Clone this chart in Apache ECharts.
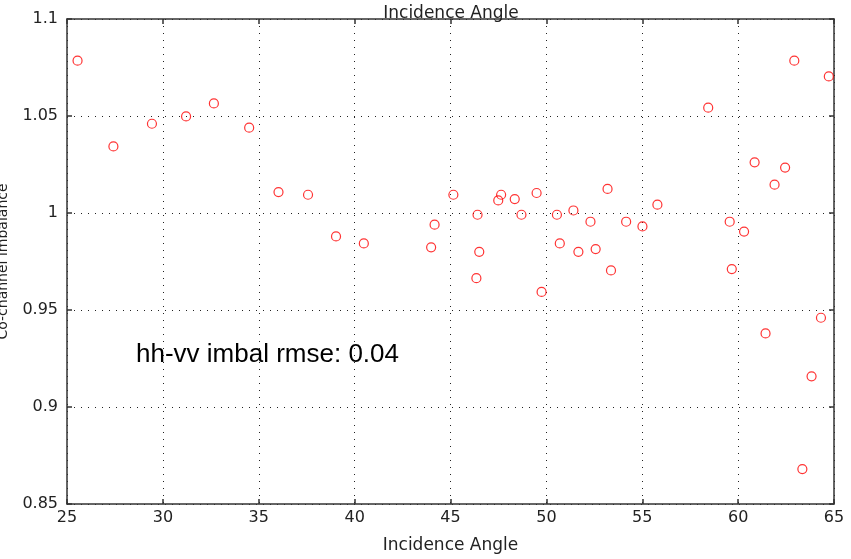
<!DOCTYPE html>
<html>
<head>
<meta charset="utf-8">
<script src="https://cdn.jsdelivr.net/npm/echarts@6/dist/echarts.min.js"></script>
<style>html,body{margin:0;padding:0;background:#fff}#c{width:851px;height:559px}</style>
</head>
<body>
<div id="c"></div>
<script>
const incidenceAngle = [25.55, 27.42, 29.43, 31.21, 32.66, 34.50, 36.03, 37.57, 39.03, 40.48,
  43.99, 44.17, 45.15, 46.41, 46.50, 46.35, 47.49, 47.64, 48.35, 48.70, 49.49, 49.75,
  50.55, 50.70, 51.41, 51.67, 52.30, 52.57, 53.19, 53.37, 54.16, 55.01, 55.79,
  58.44, 59.56, 59.67, 60.31, 60.86, 61.43, 61.90, 62.45, 62.93, 63.35, 63.83, 64.32, 64.73];
const imbalance = [1.0785, 1.0343, 1.046, 1.0498, 1.0565, 1.044, 1.0108, 1.0094, 0.9879, 0.9843,
  0.9823, 0.994, 1.0094, 0.9991, 0.980, 0.9664, 1.0065, 1.0094, 1.0072, 0.9991, 1.0103, 0.9593,
  0.9991, 0.9843, 1.0013, 0.980, 0.9955, 0.9814, 1.0124, 0.9704, 0.9955, 0.9931, 1.0043,
  1.0543, 0.9955, 0.9711, 0.9904, 1.0261, 0.9379, 1.0146, 1.0234, 1.0785, 0.868, 0.9158, 0.946, 1.0704];
const xTicks = [25, 30, 35, 40, 45, 50, 55, 60, 65];
const yTicks = [0.85, 0.9, 0.95, 1, 1.05, 1.1];
const annotation = 'hh-vv imbal rmse: 0.04';
const axisTitle = 'Incidence Angle';
const yTitle = 'Co-channel imbalance';

const data = incidenceAngle.map((x, i) => [x, imbalance[i]]);
const chart = echarts.init(document.getElementById('c'));
const axisCol = '#333';
const gridLine = {show: true, lineStyle: {color: '#222', type: [1, 6], width: 1}};
const commonX = {
  type: 'value', min: xTicks[0], max: xTicks[xTicks.length - 1], interval: 5,
  axisLine: {show: true, onZero: false, lineStyle: {color: axisCol, width: 1.5}},
  axisTick: {show: true, inside: true, length: 5, lineStyle: {color: axisCol, width: 1.5}},
};
const commonY = {
  type: 'value', min: yTicks[0], max: yTicks[yTicks.length - 1], interval: 0.05,
  axisLine: {show: true, onZero: false, lineStyle: {color: axisCol, width: 1.5}},
  axisTick: {show: true, inside: true, length: 5, lineStyle: {color: axisCol, width: 1.5}},
};
chart.setOption({
  backgroundColor: '#fff',
  animation: false,
  title: {
    text: axisTitle, left: 446, top: 0, textAlign: 'center',
    textStyle: {fontFamily: 'DejaVu Sans', fontSize: 17, fontWeight: 'normal', color: '#222'}
  },
  grid: {left: 67, right: 17, top: 19, bottom: 55, containLabel: false, outerBoundsMode: 'none'},
  xAxis: [
    Object.assign({}, commonX, {
      position: 'bottom',
      name: axisTitle, nameLocation: 'middle', nameGap: 33,
      nameTextStyle: {fontFamily: 'DejaVu Sans', fontSize: 17, color: '#222'},
      axisLabel: {fontFamily: 'DejaVu Sans', fontSize: 16, color: '#222', margin: 6},
      splitLine: gridLine
    }),
    Object.assign({}, commonX, {
      position: 'top', axisLabel: {show: false}, splitLine: {show: false}
    })
  ],
  yAxis: [
    Object.assign({}, commonY, {
      position: 'left',
      name: yTitle, nameLocation: 'middle', nameGap: 57, nameRotate: 90,
      nameTextStyle: {fontFamily: 'DejaVu Sans', fontSize: 14, color: '#222'},
      axisLabel: {fontFamily: 'DejaVu Sans', fontSize: 16, color: '#222', margin: 9},
      splitLine: gridLine
    }),
    Object.assign({}, commonY, {
      position: 'right', axisLabel: {show: false}, splitLine: {show: false}
    })
  ],
  series: [{
    type: 'scatter', data: data, symbol: 'circle', symbolSize: 9,
    itemStyle: {color: 'rgba(0,0,0,0)', borderColor: '#ff0000', borderWidth: 1.2},
    clip: false
  }]
});
const p = chart.convertToPixel({xAxisIndex: 0, yAxisIndex: 0}, [28.6, 0.9295]);
chart.setOption({
  graphic: [{
    type: 'text', left: p[0], top: p[1] - 8,
    style: {text: annotation, fontFamily: 'Liberation Sans', fontSize: 26, fill: '#000'}
  }]
});
</script>
</body>
</html>
